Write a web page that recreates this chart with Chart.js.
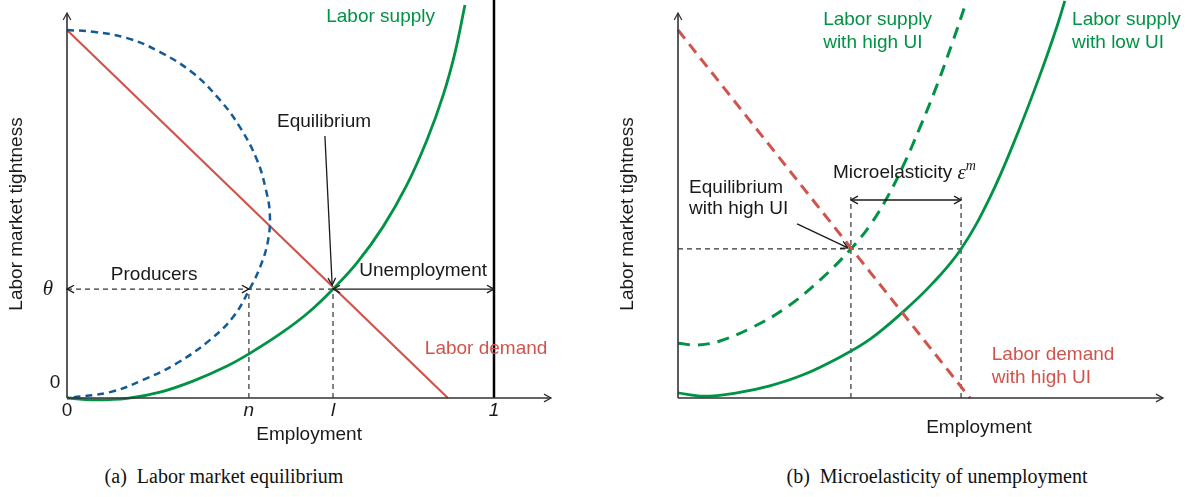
<!DOCTYPE html>
<html>
<head>
<meta charset="utf-8">
<script src="https://cdn.jsdelivr.net/npm/chart.js@4.4.1/dist/chart.umd.min.js"></script>
<style>
  body { margin: 0; background: #fff; width: 1200px; height: 497px; overflow: hidden; position: relative; }
  .panel { position: absolute; top: 0; width: 600px; height: 460px; }
  .caption { position: absolute; top: 465px; font-family: "Liberation Serif", "Times New Roman", serif; font-size: 20px; color: #111; text-align: center; white-space: pre; }
</style>
</head>
<body>
<div class="panel" style="left:0"><canvas id="equilibrium" width="600" height="460"></canvas></div>
<div class="panel" style="left:600px"><canvas id="microelasticity" width="600" height="460"></canvas></div>
<div class="caption" style="left:0;width:448px">(a)  Labor market equilibrium</div>
<div class="caption" style="left:600px;width:674px">(b)  Microelasticity of unemployment</div>

<script>
// (a) employment on x (1 = labor force), labor market tightness on y
const demand_x = [0, 0.892];
const demand_y = [1, 0];
const supply_x = [0, 0.061, 0.141, 0.218, 0.295, 0.375, 0.429, 0.499, 0.564, 0.623, 0.679, 0.740, 0.796, 0.843, 0.881, 0.909, 0.932];
const supply_y = [0, -0.005, -0.001, 0.016, 0.046, 0.087, 0.122, 0.174, 0.231, 0.296, 0.367, 0.465, 0.579, 0.701, 0.823, 0.940, 1.068];
const producers_x = [0, 0.061, 0.141, 0.218, 0.295, 0.358, 0.405, 0.445, 0.466, 0.475, 0.471, 0.454, 0.429, 0.389, 0.335, 0.258, 0.178, 0.101, 0];
const producers_y = [1, 0.995, 0.978, 0.940, 0.883, 0.810, 0.736, 0.647, 0.565, 0.500, 0.429, 0.361, 0.299, 0.220, 0.158, 0.095, 0.049, 0.016, 0];
const labor_force = 1;
const emp_n = 0.426;
const emp_l = 0.623;
const theta = 0.296;
const x_tick_values = [0, emp_n, emp_l, labor_force];
const x_tick_labels = ["0", "n", "l", "1"];

// (b) high UI vs low UI
const demand_high_x = [0, 0.684];
const demand_high_y = [1, 0];
const supply_high_x = [0, 0.044, 0.098, 0.176, 0.255, 0.333, 0.405, 0.450, 0.489, 0.527, 0.567, 0.607, 0.644, 0.672];
const supply_high_y = [0.149, 0.144, 0.155, 0.193, 0.247, 0.321, 0.405, 0.470, 0.543, 0.630, 0.736, 0.851, 0.970, 1.065];
const supply_low_x = [0, 0.059, 0.138, 0.215, 0.293, 0.379, 0.450, 0.527, 0.595, 0.663, 0.731, 0.794, 0.848, 0.888, 0.906];
const supply_low_y = [0.014, 0.005, 0.014, 0.033, 0.063, 0.111, 0.160, 0.234, 0.310, 0.405, 0.546, 0.715, 0.878, 1.011, 1.079];
const emp_high = 0.405;
const emp_low = 0.663;
const theta_high = 0.405;

const GREEN = "rgb(0,146,69)";
const RED = "rgb(208,84,76)";
const BLUE = "rgb(22,90,148)";
const INK = "#1a1a1a";
const SANS = '"Liberation Sans", Arial, sans-serif';
const SERIF = '"Liberation Serif", "Times New Roman", serif';

function pts(xs, ys) {
  return xs.map((x, i) => ({ x: x, y: ys[i] }));
}

function head(ctx, x, y, ang) {
  const s = 8, w = 0.5;
  ctx.beginPath();
  ctx.moveTo(x - s * Math.cos(ang - w), y - s * Math.sin(ang - w));
  ctx.lineTo(x, y);
  ctx.lineTo(x - s * Math.cos(ang + w), y - s * Math.sin(ang + w));
  ctx.stroke();
}

// draws axes, guide lines, arrows and labels for one panel
function makeNotes(n) {
  return {
    id: "notes",
    beforeDatasetsDraw(chart) {
      const ctx = chart.ctx, sx = chart.scales.x, sy = chart.scales.y;
      ctx.save();
      ctx.strokeStyle = "#333";
      ctx.lineWidth = 1.2;
      ctx.setLineDash([5, 4]);
      n.guides.forEach(g => {
        ctx.beginPath();
        ctx.moveTo(sx.getPixelForValue(g[0]), sy.getPixelForValue(g[1]));
        ctx.lineTo(sx.getPixelForValue(g[2]), sy.getPixelForValue(g[3]));
        ctx.stroke();
      });
      ctx.restore();
    },
    afterDatasetsDraw(chart) {
      const ctx = chart.ctx, sx = chart.scales.x, sy = chart.scales.y, area = chart.chartArea;
      const x0 = sx.getPixelForValue(0), y0 = sy.getPixelForValue(0);
      ctx.save();
      // axes
      ctx.strokeStyle = "#333";
      ctx.lineWidth = 1.6;
      ctx.beginPath();
      ctx.moveTo(x0, y0); ctx.lineTo(area.right, y0);
      ctx.moveTo(x0, y0); ctx.lineTo(x0, 13);
      ctx.stroke();
      ctx.lineWidth = 1.3;
      head(ctx, area.right, y0, 0);
      head(ctx, x0, 13, -Math.PI / 2);

      // arrows
      ctx.strokeStyle = INK;
      ctx.lineWidth = 1.3;
      n.arrows.forEach(a => {
        const ax = sx.getPixelForValue(a.from[0]), ay = sy.getPixelForValue(a.from[1]);
        const bx = sx.getPixelForValue(a.to[0]), by = sy.getPixelForValue(a.to[1]);
        const ang = Math.atan2(by - ay, bx - ax);
        if (!a.dashed) {
          ctx.beginPath(); ctx.moveTo(ax, ay); ctx.lineTo(bx, by); ctx.stroke();
        }
        head(ctx, bx, by, ang);
        if (a.both) head(ctx, ax, ay, ang + Math.PI);
      });

      // labels
      ctx.textBaseline = "middle";
      n.texts.forEach(t => {
        let x = sx.getPixelForValue(t.x), y = sy.getPixelForValue(t.y);
        const parts = t.parts || [{ s: t.s, font: t.font || "19px " + SANS }];
        ctx.fillStyle = t.color || INK;
        let w = 0;
        parts.forEach(p => { ctx.font = p.font; w += ctx.measureText(p.s).width; });
        if (t.align === "center") x -= w / 2;
        parts.forEach(p => {
          ctx.font = p.font;
          ctx.textAlign = "left";
          ctx.fillText(p.s, x, y + (p.dy || 0));
          x += ctx.measureText(p.s).width;
        });
      });

      // y axis title
      ctx.translate(n.ytitle, 214);
      ctx.rotate(-Math.PI / 2);
      ctx.textAlign = "center";
      ctx.font = "19px " + SANS;
      ctx.fillStyle = INK;
      ctx.fillText("Labor market tightness", 0, 0);
      ctx.restore();
    }
  };
}

function baseOptions(pad, xmax) {
  return {
    responsive: false,
    animation: false,
    events: [],
    layout: { padding: pad },
    plugins: { legend: { display: false }, tooltip: { enabled: false } },
    elements: { point: { radius: 0 } },
    scales: {
      x: { type: "linear", min: 0, max: xmax, display: false },
      y: { type: "linear", min: 0, max: 1.0815, display: false }
    }
  };
}

// ---- panel (a)
const italicSans = "italic 19px " + SANS;
const notesA = {
  ytitle: 17,
  guides: [
    [0, theta, emp_l, theta],
    [emp_n, 0, emp_n, theta],
    [emp_l, 0, emp_l, theta]
  ],
  arrows: [
    { from: [0, theta], to: [emp_n, theta], both: true, dashed: true },
    { from: [emp_l, theta], to: [labor_force, theta], both: true },
    { from: [0.604, 0.712], to: [0.621, 0.307] }
  ],
  texts: [
    { s: "Labor supply", x: 0.607, y: 1.035, color: GREEN },
    { s: "Equilibrium", x: 0.602, y: 0.75, align: "center" },
    { s: "Producers", x: 0.204, y: 0.334, align: "center" },
    { s: "Unemployment", x: 0.834, y: 0.345, align: "center" },
    { s: "Labor demand", x: 0.838, y: 0.133, color: RED },
    { s: "Employment", x: 0.567, y: -0.1005, align: "center" },
    { s: "0", x: -0.028, y: 0.041, align: "center" },
    { s: "θ", x: -0.045, y: theta, align: "center", font: "italic 21px " + SERIF }
  ].concat(x_tick_labels.map((lab, i) => ({
    s: lab, x: x_tick_values[i], y: -0.035, align: "center", font: i === 0 ? "19px " + SANS : italicSans
  })))
};

new Chart(document.getElementById("equilibrium"), {
  type: "scatter",
  data: {
    datasets: [
      { data: pts(producers_x, producers_y), showLine: true, borderColor: BLUE, borderWidth: 2.5, borderDash: [7, 5], tension: 0.4, clip: false },
      { data: pts(demand_x, demand_y), showLine: true, borderColor: RED, borderWidth: 2.2, clip: false },
      { data: pts(supply_x, supply_y), showLine: true, borderColor: GREEN, borderWidth: 2.8, tension: 0.4, clip: false },
      { data: [{ x: labor_force, y: 0 }, { x: labor_force, y: 1.0815 }], showLine: true, borderColor: "#000", borderWidth: 2.5, clip: false }
    ]
  },
  options: baseOptions({ left: 67, right: 49, top: 0, bottom: 62 }, 1.1335),
  plugins: [makeNotes(notesA)]
});

// ---- panel (b)
const notesB = {
  ytitle: 28,
  guides: [
    [0, theta_high, emp_low, theta_high],
    [emp_high, 0, emp_high, 0.546],
    [emp_low, 0, emp_low, 0.546]
  ],
  arrows: [
    { from: [emp_high, 0.538], to: [emp_low, 0.538], both: true },
    { from: [0.279, 0.473], to: [0.398, 0.408] }
  ],
  texts: [
    { s: "Labor supply", x: 0.340, y: 1.027, color: GREEN },
    { s: "with high UI", x: 0.340, y: 0.965, color: GREEN },
    { s: "Labor supply", x: 0.923, y: 1.027, color: GREEN },
    { s: "with low UI", x: 0.923, y: 0.965, color: GREEN },
    { s: "Labor demand", x: 0.735, y: 0.117, color: RED },
    { s: "with high UI", x: 0.735, y: 0.054, color: RED },
    { s: "Equilibrium", x: 0.026, y: 0.571 },
    { s: "with high UI", x: 0.026, y: 0.514 },
    { x: 0.363, y: 0.611, parts: [
      { s: "Microelasticity ", font: "19px " + SANS },
      { s: "ε", font: "italic 21px " + SERIF },
      { s: "m", font: "italic 14px " + SERIF, dy: -7 }
    ] },
    { s: "Employment", x: 0.705, y: -0.082, align: "center" }
  ]
};

new Chart(document.getElementById("microelasticity"), {
  type: "scatter",
  data: {
    datasets: [
      { data: pts(demand_high_x, demand_high_y), showLine: true, borderColor: RED, borderWidth: 3, borderDash: [11, 7], clip: false },
      { data: pts(supply_high_x, supply_high_y), showLine: true, borderColor: GREEN, borderWidth: 3, borderDash: [12, 8], tension: 0.4, clip: false },
      { data: pts(supply_low_x, supply_low_y), showLine: true, borderColor: GREEN, borderWidth: 2.8, tension: 0.4, clip: false }
    ]
  },
  options: baseOptions({ left: 78, right: 37, top: 0, bottom: 62 }, 1.136),
  plugins: [makeNotes(notesB)]
});
</script>
</body>
</html>
